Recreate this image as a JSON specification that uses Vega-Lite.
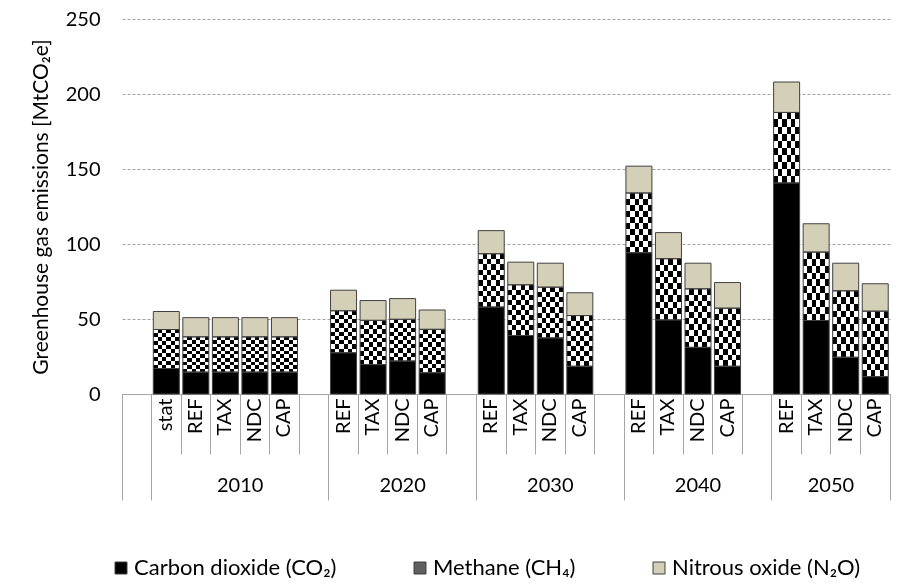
{
  "$schema": "https://vega.github.io/schema/vega-lite/v6.json",
  "autosize": "none",
  "width": 768,
  "height": 375,
  "padding": {"left": 122, "top": 19, "right": 17, "bottom": 193},
  "config": {"font": "Lato", "view": {"stroke": null}, "axis": {"labelFont": "Lato", "titleFont": "Lato", "labelColor": "#000000", "titleColor": "#000000"}},
  "data": {"values": [
    {"slot": "2010|stat", "gas": "Carbon dioxide (CO₂)", "value": 17},
    {"slot": "2010|stat", "gas": "Methane (CH₄)", "value": 26},
    {"slot": "2010|stat", "gas": "Nitrous oxide (N₂O)", "value": 12},
    {"slot": "2010|REF", "gas": "Carbon dioxide (CO₂)", "value": 14.6},
    {"slot": "2010|REF", "gas": "Methane (CH₄)", "value": 23.5},
    {"slot": "2010|REF", "gas": "Nitrous oxide (N₂O)", "value": 12.8},
    {"slot": "2010|TAX", "gas": "Carbon dioxide (CO₂)", "value": 14.6},
    {"slot": "2010|TAX", "gas": "Methane (CH₄)", "value": 23.5},
    {"slot": "2010|TAX", "gas": "Nitrous oxide (N₂O)", "value": 12.8},
    {"slot": "2010|NDC", "gas": "Carbon dioxide (CO₂)", "value": 14.6},
    {"slot": "2010|NDC", "gas": "Methane (CH₄)", "value": 23.5},
    {"slot": "2010|NDC", "gas": "Nitrous oxide (N₂O)", "value": 12.8},
    {"slot": "2010|CAP", "gas": "Carbon dioxide (CO₂)", "value": 14.6},
    {"slot": "2010|CAP", "gas": "Methane (CH₄)", "value": 23.5},
    {"slot": "2010|CAP", "gas": "Nitrous oxide (N₂O)", "value": 12.8},
    {"slot": "2020|REF", "gas": "Carbon dioxide (CO₂)", "value": 27.5},
    {"slot": "2020|REF", "gas": "Methane (CH₄)", "value": 28},
    {"slot": "2020|REF", "gas": "Nitrous oxide (N₂O)", "value": 13.7},
    {"slot": "2020|TAX", "gas": "Carbon dioxide (CO₂)", "value": 19.6},
    {"slot": "2020|TAX", "gas": "Methane (CH₄)", "value": 29.5},
    {"slot": "2020|TAX", "gas": "Nitrous oxide (N₂O)", "value": 13.2},
    {"slot": "2020|NDC", "gas": "Carbon dioxide (CO₂)", "value": 22},
    {"slot": "2020|NDC", "gas": "Methane (CH₄)", "value": 27.8},
    {"slot": "2020|NDC", "gas": "Nitrous oxide (N₂O)", "value": 13.8},
    {"slot": "2020|CAP", "gas": "Carbon dioxide (CO₂)", "value": 14.2},
    {"slot": "2020|CAP", "gas": "Methane (CH₄)", "value": 28.9},
    {"slot": "2020|CAP", "gas": "Nitrous oxide (N₂O)", "value": 12.9},
    {"slot": "2030|REF", "gas": "Carbon dioxide (CO₂)", "value": 58},
    {"slot": "2030|REF", "gas": "Methane (CH₄)", "value": 35.5},
    {"slot": "2030|REF", "gas": "Nitrous oxide (N₂O)", "value": 15.4},
    {"slot": "2030|TAX", "gas": "Carbon dioxide (CO₂)", "value": 39},
    {"slot": "2030|TAX", "gas": "Methane (CH₄)", "value": 33.8},
    {"slot": "2030|TAX", "gas": "Nitrous oxide (N₂O)", "value": 15.1},
    {"slot": "2030|NDC", "gas": "Carbon dioxide (CO₂)", "value": 37.4},
    {"slot": "2030|NDC", "gas": "Methane (CH₄)", "value": 33.8},
    {"slot": "2030|NDC", "gas": "Nitrous oxide (N₂O)", "value": 16},
    {"slot": "2030|CAP", "gas": "Carbon dioxide (CO₂)", "value": 18.5},
    {"slot": "2030|CAP", "gas": "Methane (CH₄)", "value": 33.8},
    {"slot": "2030|CAP", "gas": "Nitrous oxide (N₂O)", "value": 15.2},
    {"slot": "2040|REF", "gas": "Carbon dioxide (CO₂)", "value": 94.2},
    {"slot": "2040|REF", "gas": "Methane (CH₄)", "value": 39.8},
    {"slot": "2040|REF", "gas": "Nitrous oxide (N₂O)", "value": 17.9},
    {"slot": "2040|TAX", "gas": "Carbon dioxide (CO₂)", "value": 49.4},
    {"slot": "2040|TAX", "gas": "Methane (CH₄)", "value": 40.8},
    {"slot": "2040|TAX", "gas": "Nitrous oxide (N₂O)", "value": 17.4},
    {"slot": "2040|NDC", "gas": "Carbon dioxide (CO₂)", "value": 31.1},
    {"slot": "2040|NDC", "gas": "Methane (CH₄)", "value": 39},
    {"slot": "2040|NDC", "gas": "Nitrous oxide (N₂O)", "value": 17.1},
    {"slot": "2040|CAP", "gas": "Carbon dioxide (CO₂)", "value": 18.5},
    {"slot": "2040|CAP", "gas": "Methane (CH₄)", "value": 38.7},
    {"slot": "2040|CAP", "gas": "Nitrous oxide (N₂O)", "value": 17.1},
    {"slot": "2050|REF", "gas": "Carbon dioxide (CO₂)", "value": 140.7},
    {"slot": "2050|REF", "gas": "Methane (CH₄)", "value": 47},
    {"slot": "2050|REF", "gas": "Nitrous oxide (N₂O)", "value": 20.3},
    {"slot": "2050|TAX", "gas": "Carbon dioxide (CO₂)", "value": 49},
    {"slot": "2050|TAX", "gas": "Methane (CH₄)", "value": 45.6},
    {"slot": "2050|TAX", "gas": "Nitrous oxide (N₂O)", "value": 18.9},
    {"slot": "2050|NDC", "gas": "Carbon dioxide (CO₂)", "value": 24.5},
    {"slot": "2050|NDC", "gas": "Methane (CH₄)", "value": 44.3},
    {"slot": "2050|NDC", "gas": "Nitrous oxide (N₂O)", "value": 18.4},
    {"slot": "2050|CAP", "gas": "Carbon dioxide (CO₂)", "value": 11.6},
    {"slot": "2050|CAP", "gas": "Methane (CH₄)", "value": 43.6},
    {"slot": "2050|CAP", "gas": "Nitrous oxide (N₂O)", "value": 18.3}
  ]},
  "transform": [
    {"stack": "value", "groupby": ["slot"], "sort": [{"field": "gas", "order": "ascending"}], "as": ["v0", "v1"]}
  ],
  "encoding": {
    "y": {"field": "v0", "type": "quantitative", "scale": {"domain": [0, 250]},
      "axis": {"values": [0, 50, 100, 150, 200, 250], "grid": true, "gridDash": [3, 2], "gridColor": "#a0a0a0", "gridWidth": 1, "domain": false, "ticks": false, "labelFontSize": 20, "labelPadding": 22, "title": "Greenhouse gas emissions [MtCO₂e]", "titleFontSize": 21, "titleFontWeight": "normal", "titlePadding": 14}},
    "y2": {"field": "v1"}
  },
  "layer": [
    {
      "mark": {"type": "bar", "width": {"band": 0.88}, "strokeWidth": 0},
      "encoding": {
        "x": {"field": "slot", "type": "nominal", "sort": null,
          "scale": {"domain": ["0|", "2010|stat", "2010|REF", "2010|TAX", "2010|NDC", "2010|CAP", "2010|", "2020|REF", "2020|TAX", "2020|NDC", "2020|CAP", "2020|", "2030|REF", "2030|TAX", "2030|NDC", "2030|CAP", "2030|", "2040|REF", "2040|TAX", "2040|NDC", "2040|CAP", "2040|", "2050|REF", "2050|TAX", "2050|NDC", "2050|CAP"], "paddingInner": 0, "paddingOuter": 0},
          "axis": {"orient": "bottom", "title": null, "bandPosition": 0, "domain": true, "domainColor": "#a6a6a6", "tickColor": "#a6a6a6", "tickSize": 60, "labelAngle": -90, "labelAlign": "right", "labelBaseline": "middle", "labelPadding": -56, "labelFontSize": 20, "labelExpr": "split(datum.value, '|')[1]"}},
        "fill": {"field": "gas", "type": "nominal",
          "scale": {"domain": ["Carbon dioxide (CO₂)", "Methane (CH₄)", "Nitrous oxide (N₂O)"], "range": ["#000000", "#5f5f5f", "#d4d0b8"]},
          "legend": {"orient": "none", "legendX": -12, "legendY": 538, "direction": "horizontal", "columnPadding": 72, "symbolType": "square", "symbolSize": 144, "symbolStrokeColor": "#404040", "symbolStrokeWidth": 1, "labelFontSize": 22, "labelFont": "Lato", "labelColor": "#000000", "labelOffset": 2, "labelLimit": 400, "title": null}}
      }
    },
    {
      "transform": [{"filter": "datum.gas === 'Methane (CH₄)'"}],
      "mark": {"type": "bar", "width": {"band": 0.88}, "strokeWidth": 0,
        "fill": {"gradient": "linear", "x1": 0, "y1": 0, "x2": 1, "y2": 0, "stops": [
          {"offset": 0, "color": "#ffffff"}, {"offset": 0.1667, "color": "#ffffff"},
          {"offset": 0.1667, "color": "#000000"}, {"offset": 0.3333, "color": "#000000"},
          {"offset": 0.3333, "color": "#ffffff"}, {"offset": 0.5, "color": "#ffffff"},
          {"offset": 0.5, "color": "#000000"}, {"offset": 0.6667, "color": "#000000"},
          {"offset": 0.6667, "color": "#ffffff"}, {"offset": 0.8333, "color": "#ffffff"},
          {"offset": 0.8333, "color": "#000000"}, {"offset": 1, "color": "#000000"}]}},
      "encoding": {
        "x": {"field": "slot", "type": "nominal", "sort": null,
          "axis": {"orient": "bottom", "title": null, "values": ["0|", "2010|stat", "2020|REF", "2030|REF", "2040|REF", "2050|REF"], "bandPosition": 0, "domain": false, "labels": false, "tickColor": "#a6a6a6", "tickSize": 106}}
      }
    },
    {
      "transform": [{"filter": "datum.gas === 'Methane (CH₄)'"}],
      "mark": {"type": "bar", "width": {"band": 0.88}, "strokeWidth": 0, "blend": "difference",
        "fill": {"gradient": "linear", "x1": 0, "y1": 0, "x2": 0, "y2": 1, "stops": [
          {"offset": 0, "color": "#000000"}, {"offset": 0.1, "color": "#000000"},
          {"offset": 0.1, "color": "#ffffff"}, {"offset": 0.2, "color": "#ffffff"},
          {"offset": 0.2, "color": "#000000"}, {"offset": 0.3, "color": "#000000"},
          {"offset": 0.3, "color": "#ffffff"}, {"offset": 0.4, "color": "#ffffff"},
          {"offset": 0.4, "color": "#000000"}, {"offset": 0.5, "color": "#000000"},
          {"offset": 0.5, "color": "#ffffff"}, {"offset": 0.6, "color": "#ffffff"},
          {"offset": 0.6, "color": "#000000"}, {"offset": 0.7, "color": "#000000"},
          {"offset": 0.7, "color": "#ffffff"}, {"offset": 0.8, "color": "#ffffff"},
          {"offset": 0.8, "color": "#000000"}, {"offset": 0.9, "color": "#000000"},
          {"offset": 0.9, "color": "#ffffff"}, {"offset": 1, "color": "#ffffff"}]}},
      "encoding": {
        "x": {"field": "slot", "type": "nominal", "sort": null,
          "axis": {"orient": "bottom", "title": null, "values": ["2010|NDC", "2020|NDC", "2030|NDC", "2040|NDC", "2050|NDC"], "bandPosition": 0.5, "domain": false, "ticks": false, "tickSize": 0, "labelAngle": 0, "labelAlign": "center", "labelBaseline": "top", "labelPadding": 81, "labelFontSize": 20, "labelOffset": {"condition": {"test": "datum.value === '2010|NDC' || datum.value === '2050|NDC'", "value": -14.77}, "value": 0}, "labelExpr": "split(datum.value, '|')[0]"}}
      }
    },
    {
      "mark": {"type": "bar", "width": {"band": 0.88}, "filled": false, "fill": null, "stroke": "#404040", "strokeWidth": 1},
      "encoding": {
        "x": {"field": "slot", "type": "nominal", "sort": null,
          "axis": {"orient": "bottom", "title": null, "values": ["2050|CAP"], "bandPosition": 1, "domain": false, "labels": false, "tickColor": "#a6a6a6", "tickSize": 106}}
      }
    }
  ],
  "resolve": {"axis": {"x": "independent"}}
}
